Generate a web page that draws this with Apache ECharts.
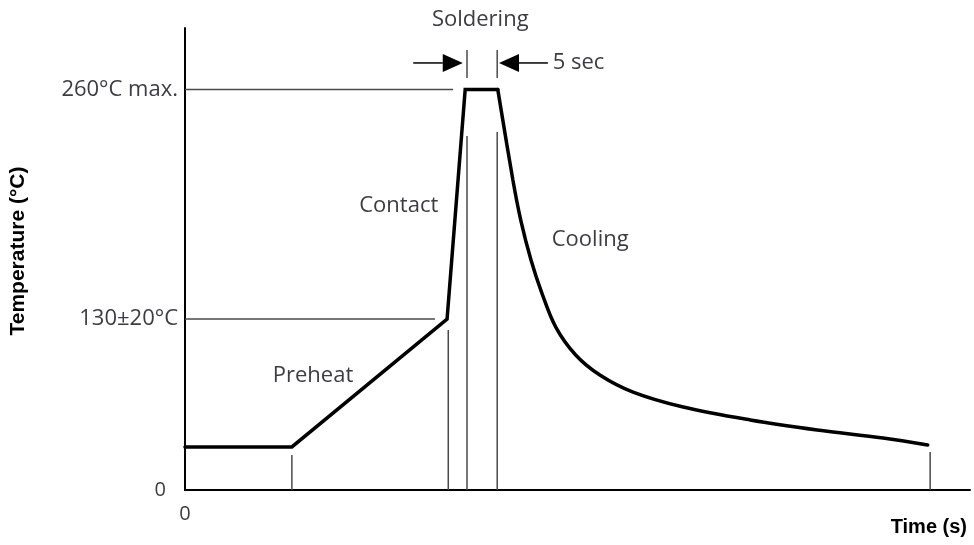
<!DOCTYPE html>
<html><head><meta charset="utf-8">
<script src="https://cdn.jsdelivr.net/npm/echarts@6/dist/echarts.min.js"></script>
<style>html,body{margin:0;padding:0;background:#fff}#c{width:974px;height:545px}</style>
</head><body><div id="c"></div>
<script>
// Temperature profile (schematic) — time in s, temperature in °C
const heatTime = [0, 17.7, 43.4, 46.4, 51.8];
const heatTemp = [28, 28, 111, 260, 260];
const coolTime = [51.8, 54.3, 55.6, 57.3, 59.1, 61.4, 64.7, 68.7, 74.2, 82.5, 93.6, 104.7, 115.6, 123.0];
const coolTemp = [260, 201.3, 175.3, 149.4, 127.9, 105.8, 87.7, 74.7, 63.6, 53.9, 45.5, 39.0, 33.8, 29.2];
const markerTime = [17.7, 43.6, 46.7, 51.7, 123.4];
const markerTop = [22.7, 103.9, 229.9, 232.5, 24.7];
const levelTemp = [260, 111];
const levelEnd = [44.4, 41.4];
const levelLabels = ['260°C max.', '130±20°C'];
const bracketTime = [46.7, 51.7];
const bracketLow = 267.5, bracketHigh = 285.7;
const arrowTemp = 277.3;
const arrowFrom = [37.8, 60.1];
const arrowTo = [46.0, 52.0];
const phaseNames = ['Preheat', 'Contact', 'Cooling', 'Soldering', '5 sec'];
const phaseTime = [21.2, 35.4, 67.1, 48.9, 60.9];
const phaseTemp = [74.0, 184.4, 162.3, 305.5, 277.3];
const phaseAlign = ['center', 'center', 'center', 'center', 'left'];

const TXT = '#3c3c44';
const FONT = '22px "Open Sans"';
const series = [];
const pairs = (xs, ys) => xs.map((x, i) => [x, ys[i]]);
const thin = (data) => ({type: 'line', data, symbol: 'none', silent: true, animation: false,
  lineStyle: {color: '#4a4a4a', width: 1.5}});

levelTemp.forEach((t, i) => series.push(thin([[0, t], [levelEnd[i], t]])));
markerTime.forEach((x, i) => series.push(thin([[x, 0], [x, markerTop[i]]])));
bracketTime.forEach(x => series.push(thin([[x, bracketLow], [x, bracketHigh]])));

series.push({type: 'line', data: pairs(heatTime, heatTemp), symbol: 'none', silent: true, animation: false,
  lineStyle: {color: '#000', width: 3.5, cap: 'round', join: 'miter'}});
series.push({type: 'line', data: pairs(coolTime, coolTemp), symbol: 'none', smooth: 0.35, silent: true, animation: false,
  lineStyle: {color: '#000', width: 3.5, cap: 'round'}});

// arrows
series.push({type: 'custom', clip: false, silent: true, animation: false,
  data: arrowFrom.map((x, i) => [x, arrowTemp, arrowTo[i]]),
  renderItem(params, api) {
    const a = api.coord([api.value(0), api.value(1)]);
    const b = api.coord([api.value(2), api.value(1)]);
    const dir = b[0] > a[0] ? 1 : -1;
    const hl = 20, hw = 9;
    const base = b[0] - dir * hl;
    return {type: 'group', children: [
      {type: 'line', shape: {x1: a[0], y1: a[1], x2: base, y2: b[1]}, style: {stroke: '#000', lineWidth: 1.5}},
      {type: 'polygon', shape: {points: [[b[0], b[1]], [base, b[1] - hw], [base, b[1] + hw]]}, style: {fill: '#000'}}
    ]};
  }});

// level labels
series.push({type: 'custom', clip: false, silent: true, animation: false,
  data: levelTemp.map(t => [0, t]),
  renderItem(params, api) {
    const p = api.coord([api.value(0), api.value(1)]);
    return {type: 'text', x: p[0] - 7, y: p[1], style: {text: levelLabels[params.dataIndex], fill: TXT, font: FONT, align: 'right', verticalAlign: 'middle'}};
  }});

// phase labels
series.push({type: 'custom', clip: false, silent: true, animation: false,
  data: pairs(phaseTime, phaseTemp),
  renderItem(params, api) {
    const p = api.coord([api.value(0), api.value(1)]);
    return {type: 'text', x: p[0], y: p[1], style: {text: phaseNames[params.dataIndex], fill: TXT, font: FONT, align: phaseAlign[params.dataIndex], verticalAlign: 'middle'}};
  }});

const chart = echarts.init(document.getElementById('c'), null, {renderer: 'canvas'});
chart.setOption({
  animation: false,
  backgroundColor: '#fff',
  grid: {left: 185, right: 4, top: 28, bottom: 55},
  xAxis: {type: 'value', min: 0, max: 130, interval: 10,
    axisLine: {lineStyle: {color: '#000', width: 2}}, axisTick: {show: false}, splitLine: {show: false},
    axisLabel: {margin: 14, color: TXT, fontSize: 20, fontFamily: 'Open Sans', formatter: v => v === 0 ? '0' : ''}},
  yAxis: {type: 'value', min: 0, max: 300, interval: 10,
    axisLine: {lineStyle: {color: '#000', width: 2}}, axisTick: {show: false}, splitLine: {show: false},
    axisLabel: {margin: 19, color: TXT, fontSize: 20, fontFamily: 'Open Sans', formatter: v => v === 0 ? '0' : ''}},
  graphic: [
    {type: 'text', right: 7, top: 517, style: {text: 'Time (s)', fill: '#000', font: 'bold 20px "Liberation Sans"'}},
    {type: 'text', x: 18, y: 251, rotation: Math.PI / 2, style: {text: 'Temperature (°C)', fill: '#000', font: 'bold 21px "Liberation Sans"', align: 'center', verticalAlign: 'middle'}}
  ],
  series
});
</script></body></html>
